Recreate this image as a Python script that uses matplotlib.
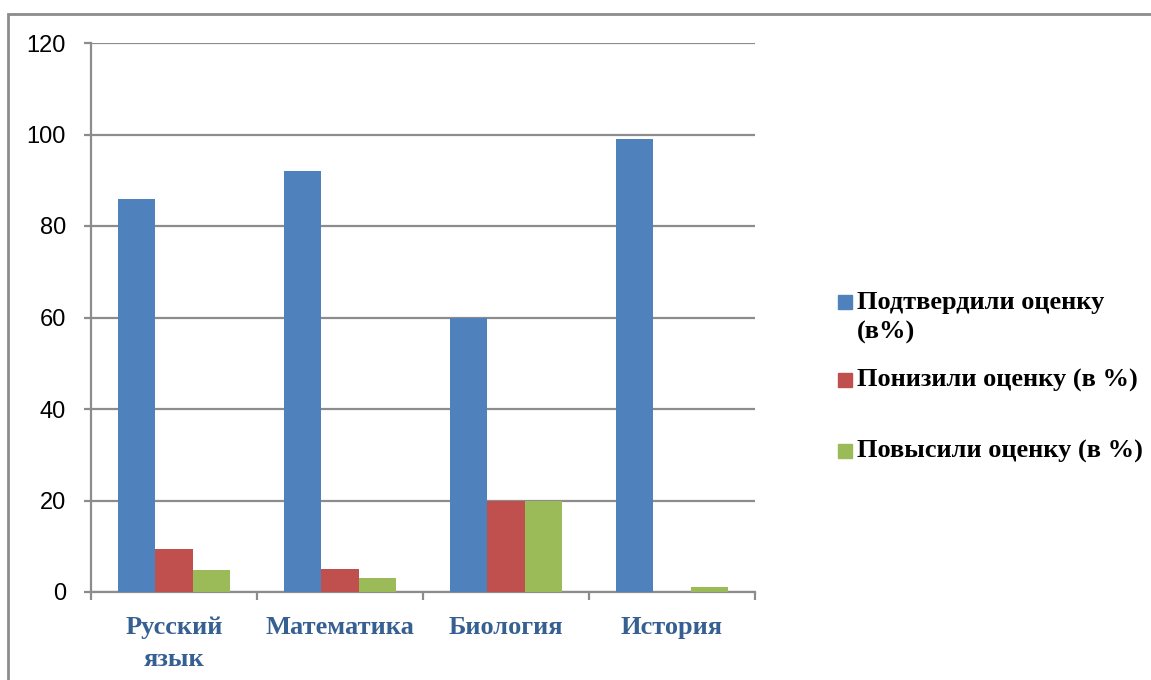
import matplotlib

matplotlib.use("Agg")
import matplotlib.pyplot as plt
import numpy as np
from matplotlib.patches import Rectangle

# Data
subjects = ["Русский\nязык", "Математика", "Биология", "История"]
confirmed = [86, 92, 60, 99]
lowered = [9.5, 5.1, 20, 0]
raised = [4.7, 3.1, 20, 1.1]
series_names = [
    "Подтвердили оценку\n(в%)",
    "Понизили оценку (в %)",
    "Повысили оценку (в %)",
]
colors = ["#4F81BD", "#C0504D", "#9BBB59"]
grid_col = "#8C8C8C"

fig = plt.figure(figsize=(11.51, 6.80), dpi=100)
ax = fig.add_axes([91 / 1151, 1 - 592 / 680, 664 / 1151, 549 / 680])

x = np.arange(len(subjects))
w = 0.223
for k, vals in enumerate([confirmed, lowered, raised]):
    ax.bar(x + (k - 1) * w, vals, width=w, color=colors[k], zorder=3)

ax.set_xlim(-0.5, len(subjects) - 0.5)
ax.set_ylim(0, 120)
ax.set_yticks(range(0, 121, 20))
ax.yaxis.grid(True, color=grid_col, linewidth=1.6, zorder=0)
ax.set_axisbelow(True)

for s in ["top", "right"]:
    ax.spines[s].set_visible(False)
for s in ["left", "bottom"]:
    ax.spines[s].set_color(grid_col)
    ax.spines[s].set_linewidth(1.6)

# ticks on category boundaries, labels in the middle
ax.set_xticks(np.arange(-0.5, len(subjects)), minor=False)
ax.set_xticklabels([])
ax.set_xticks(x, minor=True)
ax.set_xticklabels(subjects, minor=True, fontsize=19, fontweight="bold",
                   family="Liberation Serif", color="#376092", linespacing=1.5)
ax.tick_params(axis="x", which="major", length=6, width=1.6, color=grid_col)
ax.tick_params(axis="x", which="minor", length=0, pad=17)
ax.tick_params(axis="y", length=5, width=1.6, color=grid_col, labelsize=17, pad=13)
for lbl in ax.get_yticklabels():
    lbl.set_family("Liberation Sans")

# outer chart frame (extends past right and bottom edges)
fig.patches.append(Rectangle((8 / 1151, -0.1), 1.2, 1 - 14 / 680 + 0.1,
                             transform=fig.transFigure, fill=False,
                             edgecolor="#8C8C8C", linewidth=2))

# legend, drawn by hand to keep the uneven spacing
leg_y = [302, 380, 451]
for k, name in enumerate(series_names):
    fig.patches.append(Rectangle((838 / 1151, 1 - (leg_y[k] + 7) / 680), 14 / 1151, 14 / 680,
                                 transform=fig.transFigure, color=colors[k]))
    fig.text(857 / 1151, 1 - (leg_y[k] - 11) / 680, name, fontsize=19,
             fontweight="bold", family="Liberation Serif", va="top", ha="left",
             linespacing=1.35)

fig.savefig("out.png", dpi=100)
